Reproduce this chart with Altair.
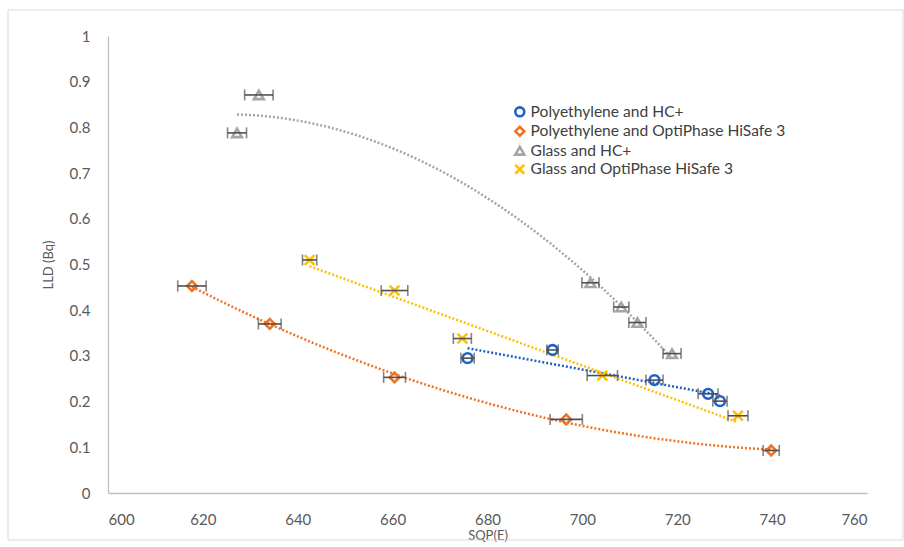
import altair as alt
import pandas as pd

series_names = [
    "Polyethylene and HC+",
    "Polyethylene and OptiPhase HiSafe 3",
    "Glass and HC+",
    "Glass and OptiPhase HiSafe 3",
]
colors = ["#1F62C4", "#F07324", "#A5A5A5", "#FFC000"]
shapes = ["circle", "diamond", "triangle-up", "M-1,-1L1,1M1,-1L-1,1"]
trend_methods = ["linear", "poly", "poly", "linear"]

pe_hc_x = [675.8, 693.7, 715.2, 726.5, 729.0]
pe_hc_y = [0.295, 0.313, 0.247, 0.217, 0.201]
pe_hc_err = [1.4, 1.2, 1.8, 2.1, 1.5]

pe_op_x = [617.7, 634.1, 660.4, 696.6, 739.8]
pe_op_y = [0.453, 0.370, 0.253, 0.161, 0.093]
pe_op_err = [3.0, 2.4, 2.3, 3.4, 1.7]

gl_hc_x = [627.2, 631.8, 701.7, 708.2, 711.6, 718.9]
gl_hc_y = [0.788, 0.871, 0.460, 0.407, 0.373, 0.305]
gl_hc_err = [2.0, 3.0, 1.8, 1.6, 1.8, 1.9]

gl_op_x = [642.5, 660.4, 674.7, 704.2, 732.8]
gl_op_y = [0.510, 0.443, 0.338, 0.257, 0.169]
gl_op_err = [1.5, 2.8, 1.9, 3.2, 2.1]

rows = []
for name, xs, ys, es in [
    (series_names[0], pe_hc_x, pe_hc_y, pe_hc_err),
    (series_names[1], pe_op_x, pe_op_y, pe_op_err),
    (series_names[2], gl_hc_x, gl_hc_y, gl_hc_err),
    (series_names[3], gl_op_x, gl_op_y, gl_op_err),
]:
    for x, y, e in zip(xs, ys, es):
        rows.append({"series": name, "x": x, "y": y, "lo": x - e, "hi": x + e})
df = pd.DataFrame(rows)

FONT = "Lato"
xscale = alt.Scale(domain=[600, 760], nice=False, zero=False)
yscale = alt.Scale(domain=[0, 1], nice=False)
cscale = alt.Scale(domain=series_names, range=colors)
sscale = alt.Scale(domain=series_names, range=shapes)

base = alt.Chart(df)

xenc = alt.X("x:Q", scale=xscale, title="SQP(E)",
             axis=alt.Axis(values=list(range(600, 761, 20)), format="d"))
yenc = alt.Y("y:Q", scale=yscale, title="LLD (Bq)",
             axis=alt.Axis(values=[i / 10 for i in range(11)], format="~g"))

trends = []
for name, col, meth in zip(series_names, colors, trend_methods):
    t = base.transform_filter(alt.datum.series == name)
    if meth == "poly":
        t = t.transform_regression("x", "y", method="poly", order=2)
    else:
        t = t.transform_regression("x", "y", method="linear")
    trends.append(t.mark_line(strokeDash=[2, 2], strokeWidth=2.5, color=col).encode(x=xenc, y=yenc))

points = base.mark_point(filled=False, strokeWidth=2.6, size=95, opacity=1).encode(
    x=xenc, y=yenc,
    color=alt.Color("series:N", scale=cscale,
                    legend=alt.Legend(title=None, orient="none", legendX=404, legendY=68,
                                      labelFontSize=15.6, labelColor="#404040", labelFont=FONT,
                                      labelLimit=0,
                                      symbolSize=80, symbolStrokeWidth=2.6, rowPadding=-0.5,
                                      labelOffset=3, padding=0)),
    shape=alt.Shape("series:N", scale=sscale),
)

bars = base.mark_rule(color="#505050", strokeWidth=1.6).encode(
    x=alt.X("lo:Q", scale=xscale), x2="hi:Q", y=alt.Y("y:Q", scale=yscale))
cap_lo = base.mark_tick(color="#505050", thickness=1.6, size=11, orient="vertical").encode(
    x=alt.X("lo:Q", scale=xscale), y=alt.Y("y:Q", scale=yscale))
cap_hi = base.mark_tick(color="#505050", thickness=1.6, size=11, orient="vertical").encode(
    x=alt.X("hi:Q", scale=xscale), y=alt.Y("y:Q", scale=yscale))

frame = alt.Chart(pd.DataFrame({"k": [0]})).mark_rect(
    fill=None, stroke="#D9D9D9", strokeWidth=1
).encode(x=alt.value(-100), x2=alt.value(795), y=alt.value(-26), y2=alt.value(504))

chart = alt.layer(frame, *trends, points, bars, cap_lo, cap_hi).properties(
    width=759, height=457,
    autosize=alt.AutoSizeParams(type="none"),
    padding={"left": 108, "top": 36, "right": 37, "bottom": 54},
    background="white",
).configure_view(stroke=None).configure_axis(
    grid=False, ticks=False, domainColor="#BFBFBF", domainWidth=1.3,
    labelColor="#595959", labelFontSize=15, labelFont=FONT,
    titleColor="#595959", titleFontSize=13, titleFont=FONT, titleFontWeight="normal",
).configure_axisX(labelPadding=19, titlePadding=2).configure_axisY(
    labelPadding=18, titlePadding=14)

chart.save("out.html", embed_options={"renderer": "svg", "actions": False})
